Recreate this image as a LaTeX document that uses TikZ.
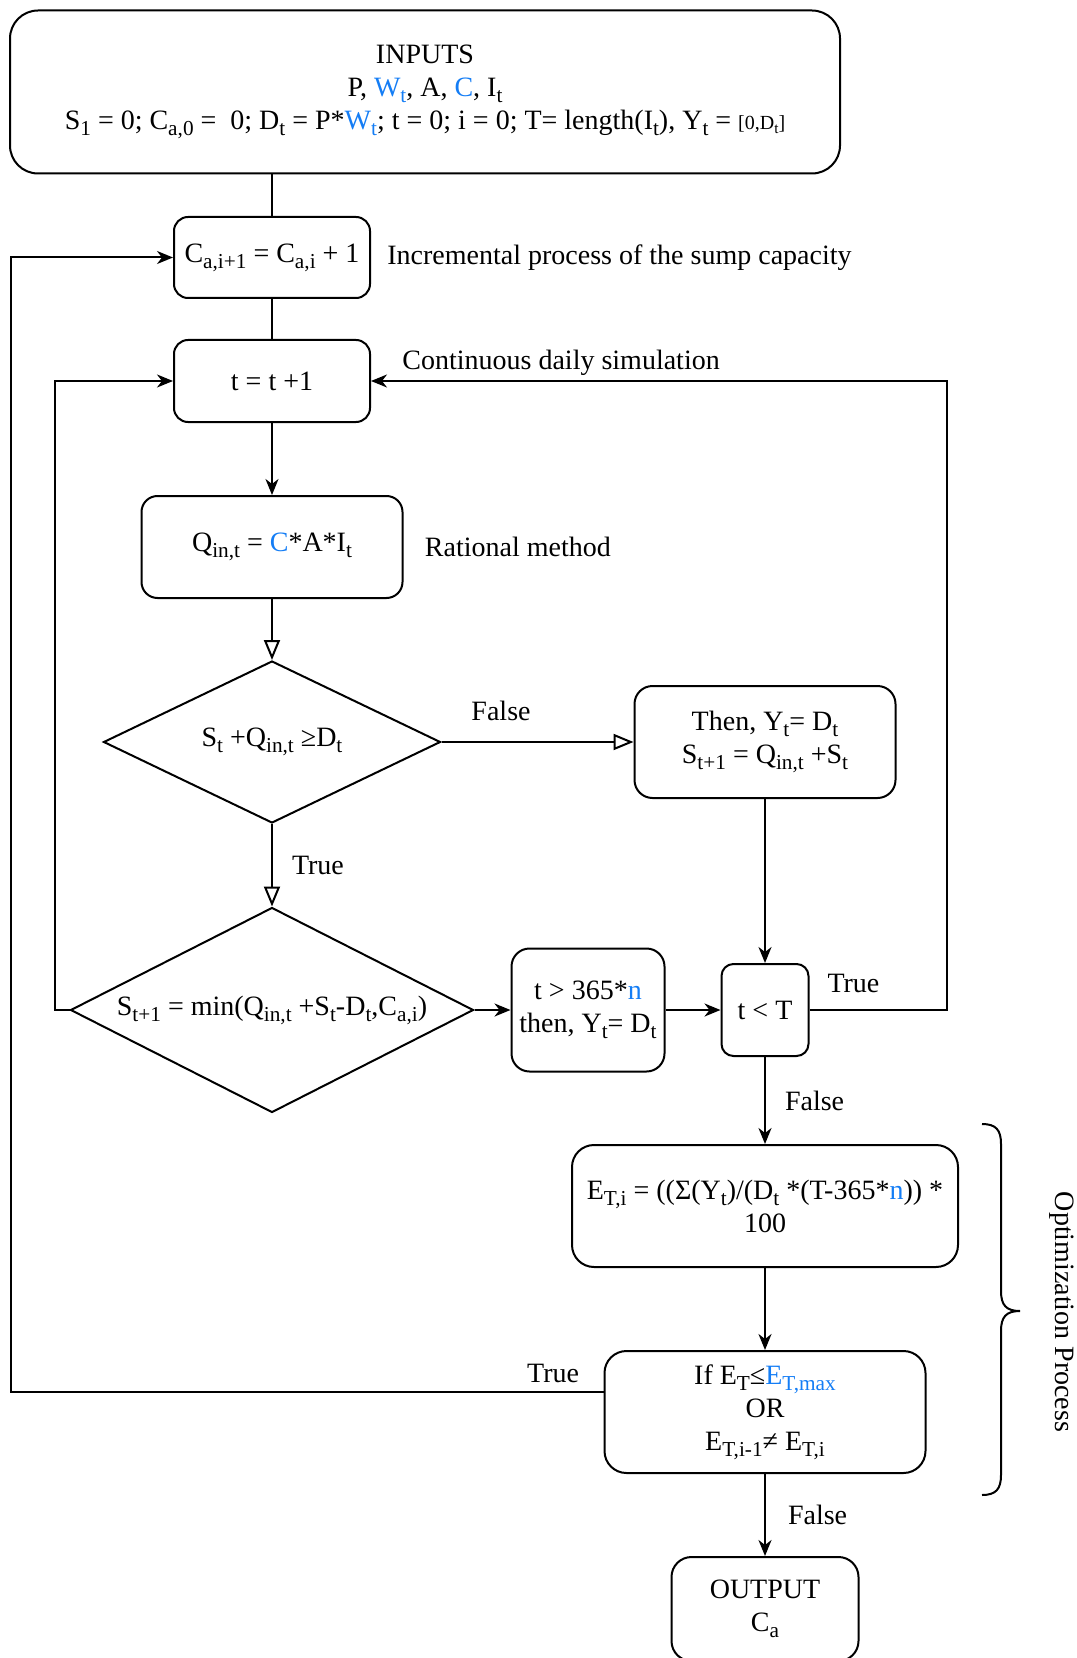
\documentclass[tikz,border=0pt]{standalone}
\usepackage{fontspec}
\setmainfont{Liberation Serif}
\usetikzlibrary{arrows.meta,positioning,shapes.geometric}
\definecolor{optBlue}{RGB}{20,125,245}
\makeatletter
\newcommand{\sbs}[1]{\raisebox{-.22em}{\fontsize{\fpeval{0.76*\f@size}}{1}\selectfont #1}}
\makeatother
\newcommand{\bl}[1]{\textcolor{optBlue}{#1}}
\tikzset{optBox/.style={draw,rectangle,rounded corners=7pt,line width=1pt,align=center,inner sep=2pt},
 optDec/.style={draw,diamond,aspect=2,line width=1pt,inner sep=0pt,align=center},
 optLabel/.style={inner sep=0pt},
 optLine/.style={line width=1pt},
 optFlow/.style={line width=1pt,-{Stealth[length=8pt,width=6.5pt,inset=2.5pt]}},
 optOpen/.style={line width=1pt,-{Triangle[open,length=10pt,width=8pt,fill=white]}}}
\begin{document}
\begin{tikzpicture}[x=0.5pt,y=-0.5pt,font=\fontsize{14}{16.5}\selectfont]
\clip (0,0) rectangle (1076,1658);
% boxes
\node[optBox,rounded corners=14pt,minimum width=415pt,minimum height=81.5pt] (inputs) at (425,92)
 {INPUTS\\P, \bl{W\sbs{t}}, A, \bl{C}, I\sbs{t}\\S\sbs{1} = 0; C\sbs{a,0} =~ 0; D\sbs{t} = P*\bl{W\sbs{t}}; t = 0; i = 0; T= length(I\sbs{t}), Y\sbs{t} = {\fontsize{10}{12}\selectfont [0,D\sbs{t}]}};
\node[optBox,minimum width=98pt,minimum height=40.5pt] (cap) at (272,257.5) {C\sbs{a,i+1} = C\sbs{a,i} + 1};
\node[optBox,minimum width=98pt,minimum height=41pt] (tstep) at (272,381) {t = t +1};
\node[optBox,rounded corners=8pt,minimum width=130.5pt,minimum height=51pt] (qin) at (272,547) {Q\sbs{in,t} = \bl{C}*A*I\sbs{t}};
\node[optDec,minimum width=168.5pt,minimum height=81pt] (dec1) at (272,742) {S\sbs{t} +Q\sbs{in,t} ≥D\sbs{t}};
\node[optBox,rounded corners=9pt,minimum width=130.5pt,minimum height=56pt] (then) at (765,742) {Then, Y\sbs{t}= D\sbs{t}\\S\sbs{t+1} = Q\sbs{in,t} +S\sbs{t}};
\node[optDec,minimum width=201.5pt,minimum height=102.5pt] (dec2) at (272,1010) {S\sbs{t+1} = min(Q\sbs{in,t} +S\sbs{t}-D\sbs{t},C\sbs{a,i})};
\node[optBox,rounded corners=9pt,minimum width=76.5pt,minimum height=61.5pt] (year) at (588,1010) {t > 365*\bl{n}\\then, Y\sbs{t}= D\sbs{t}};
\node[optBox,rounded corners=6pt,minimum width=43.5pt,minimum height=46pt] (tlt) at (765,1010) {t < T};
\node[optBox,rounded corners=11pt,minimum width=193pt,minimum height=61pt] (eff) at (765,1206) {E\sbs{T,i} = ((Σ(Y\sbs{t})/(D\sbs{t} *(T-365*\bl{n})) *\\100};
\node[optBox,rounded corners=11pt,minimum width=160.5pt,minimum height=61pt] (ifb) at (765,1412) {If E\sbs{T}≤\bl{E\sbs{T,max}}\\OR\\E\sbs{T,i-1}≠ E\sbs{T,i}};
\node[optBox,rounded corners=10pt,minimum width=93.5pt,minimum height=52pt] (out) at (765,1609) {OUTPUT\\C\sbs{a}};
% side texts
\node[optLabel,right=8pt of cap] (caplbl) {Incremental process of the sump capacity};
\node[optLabel,anchor=west] (simlbl) at (402,363) {Continuous daily simulation};
\node[optLabel,right=10.5pt of qin] (qinlbl) {Rational method};
\node[optLabel,rotate=-90] (optlbl) at (1062,1312) {Optimization Process};
\coordinate (lx) at (55,0);
\coordinate (rx) at (947,0);
\coordinate (ox) at (11,0);
% connectors
\draw[optLine] (cap.north |- inputs.south) -- (cap.north);
\draw[optLine] (cap.south) -- (tstep.north);
\draw[optFlow] (tstep.south) -- (qin.north);
\draw[optOpen] (qin.south) -- (dec1.north);
\draw[optOpen] (dec1.east) -- node[optLabel,above=10pt,pos=0.31] {False} (then.west);
\draw[optOpen] (dec1.south) -- node[optLabel,right=9.5pt] {True} (dec2.north);
\draw[optFlow] (then.south) -- (tlt.north);
\draw[optFlow] (dec2.east) -- (year.west);
\draw[optFlow] (year.east) -- (tlt.west);
\draw[optFlow] (tlt.east) -- node[optLabel,above right=8pt and 8.5pt,pos=0] {True} (tlt.east -| rx) |- (tstep.east);
\draw[optFlow] (dec2.west) -- (dec2.west -| lx) |- (tstep.west);
\draw[optFlow] (tlt.south) -- node[optLabel,right=9.5pt] {False} (eff.north);
\draw[optFlow] (eff.south) -- (ifb.north);
\draw[optFlow] (ifb.173) -- node[optLabel,above=4pt,pos=0.085] {True} (ifb.173 -| ox) |- (cap.west);
\draw[optFlow] (ifb.south) -- node[optLabel,right=11pt] {False} (out.north);
% brace
\draw[optLine] (982,1124) .. controls (996,1124) and (1001,1130) .. (1001,1144) -- (1001,1291)
 .. controls (1001,1305) and (1006,1311) .. (1020,1311) .. controls (1006,1311) and (1001,1317) .. (1001,1331)
 -- (1001,1475) .. controls (1001,1489) and (996,1495) .. (982,1495);
\end{tikzpicture}
\end{document}
